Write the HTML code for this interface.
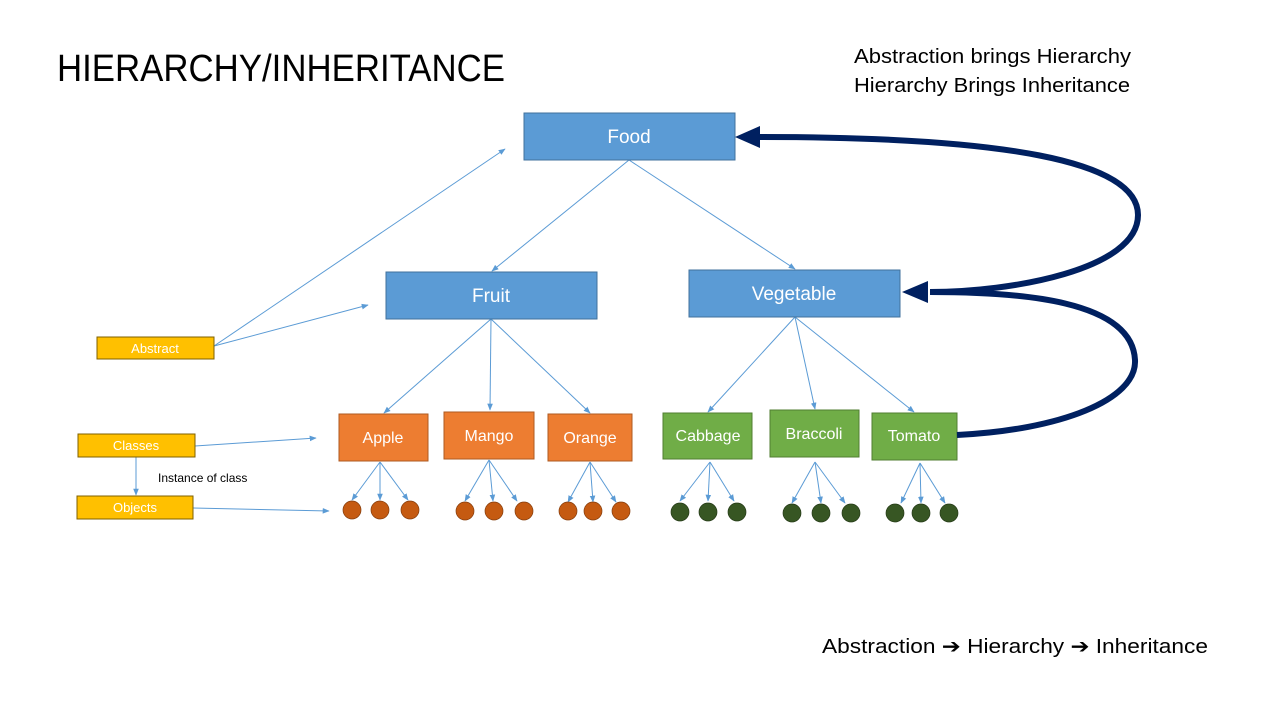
<!DOCTYPE html>
<html><head><meta charset="utf-8"><style>
body{margin:0;background:#fff;width:1280px;height:720px;overflow:hidden}
svg text{font-family:"Liberation Sans",sans-serif}
</style></head><body>
<svg width="1280" height="720" viewBox="0 0 1280 720" xmlns="http://www.w3.org/2000/svg">
<defs>
<marker id="a" viewBox="0 0 10 10" refX="9" refY="5" markerWidth="7" markerHeight="7" orient="auto"><path d="M0,1 L10,5 L0,9 z" fill="#5b9bd5"/></marker>
<marker id="b" viewBox="0 0 10 10" refX="10" refY="5" markerWidth="4" markerHeight="4" orient="auto"><path d="M0,0 L10,5 L0,10 z" fill="#002060"/></marker>
</defs>
<text x="57" y="81" font-size="38" fill="#000" textLength="448" lengthAdjust="spacingAndGlyphs">HIERARCHY/INHERITANCE</text>
<text x="854" y="63" font-size="20" fill="#000" textLength="277" lengthAdjust="spacingAndGlyphs">Abstraction brings Hierarchy</text>
<text x="854" y="92" font-size="20" fill="#000" textLength="276" lengthAdjust="spacingAndGlyphs">Hierarchy Brings Inheritance</text>
<text x="822" y="653" font-size="20" fill="#000" textLength="386" lengthAdjust="spacingAndGlyphs">Abstraction ➔ Hierarchy ➔ Inheritance</text>

<g stroke="#5b9bd5" stroke-width="1" fill="none" marker-end="url(#a)">
<line x1="629" y1="160" x2="492" y2="271"/>
<line x1="629" y1="160" x2="795" y2="269"/>
<line x1="491" y1="319" x2="384" y2="413"/>
<line x1="491" y1="319" x2="490" y2="410"/>
<line x1="491" y1="319" x2="590" y2="413"/>
<line x1="795" y1="317" x2="708" y2="412"/>
<line x1="795" y1="317" x2="815" y2="409"/>
<line x1="795" y1="317" x2="914" y2="412"/>
<line x1="214" y1="346" x2="505" y2="149"/>
<line x1="214" y1="346" x2="368" y2="305"/>
<line x1="195" y1="446" x2="316" y2="438"/>
<line x1="136" y1="457" x2="136" y2="495"/>
<line x1="193" y1="508" x2="329" y2="511"/>
</g>
<g stroke="#5b9bd5" stroke-width="1" marker-end="url(#a)">
<line x1="380" y1="462" x2="352" y2="500"/><line x1="380" y1="462" x2="380" y2="500"/><line x1="380" y1="462" x2="408" y2="500"/>
<line x1="489" y1="460" x2="465" y2="501"/><line x1="489" y1="460" x2="493" y2="501"/><line x1="489" y1="460" x2="517" y2="501"/>
<line x1="590" y1="462" x2="568" y2="502"/><line x1="590" y1="462" x2="593" y2="502"/><line x1="590" y1="462" x2="616" y2="502"/>
<line x1="710" y1="462" x2="680" y2="501"/><line x1="710" y1="462" x2="708" y2="501"/><line x1="710" y1="462" x2="734" y2="501"/>
<line x1="815" y1="462" x2="792" y2="503"/><line x1="815" y1="462" x2="821" y2="503"/><line x1="815" y1="462" x2="845" y2="503"/>
<line x1="920" y1="463" x2="901" y2="503"/><line x1="920" y1="463" x2="921" y2="503"/><line x1="920" y1="463" x2="945" y2="503"/>
</g>

<g font-size="19" fill="#fff" text-anchor="middle">
<rect x="524" y="113" width="211" height="47" fill="#5b9bd5" stroke="#41719c"/><text x="629" y="143">Food</text>
<rect x="386" y="272" width="211" height="47" fill="#5b9bd5" stroke="#41719c"/><text x="491" y="302">Fruit</text>
<rect x="689" y="270" width="211" height="47" fill="#5b9bd5" stroke="#41719c"/><text x="794" y="300">Vegetable</text>
</g>
<g font-size="16" fill="#fff" text-anchor="middle">
<rect x="339" y="414" width="89" height="47" fill="#ed7d31" stroke="#ae5a21"/><text x="383" y="443">Apple</text>
<rect x="444" y="412" width="90" height="47" fill="#ed7d31" stroke="#ae5a21"/><text x="489" y="441">Mango</text>
<rect x="548" y="414" width="84" height="47" fill="#ed7d31" stroke="#ae5a21"/><text x="590" y="443">Orange</text>
<rect x="663" y="413" width="89" height="46" fill="#70ad47" stroke="#507e32"/><text x="708" y="441">Cabbage</text>
<rect x="770" y="410" width="89" height="47" fill="#70ad47" stroke="#507e32"/><text x="814" y="439">Braccoli</text>
<rect x="872" y="413" width="85" height="47" fill="#70ad47" stroke="#507e32"/><text x="914" y="441">Tomato</text>
</g>
<g font-size="13" fill="#fff" text-anchor="middle">
<rect x="97" y="337" width="117" height="22" fill="#ffc000" stroke="#7f6000"/><text x="155" y="353">Abstract</text>
<rect x="78" y="434" width="117" height="23" fill="#ffc000" stroke="#7f6000"/><text x="136" y="450">Classes</text>
<rect x="77" y="496" width="116" height="23" fill="#ffc000" stroke="#7f6000"/><text x="135" y="512">Objects</text>
</g>
<text x="158" y="482" font-size="12" fill="#000">Instance of class</text>

<g fill="#c55a11" stroke="#843c0c" stroke-width="0.7">
<circle cx="352" cy="510" r="9"/><circle cx="380" cy="510" r="9"/><circle cx="410" cy="510" r="9"/>
<circle cx="465" cy="511" r="9"/><circle cx="494" cy="511" r="9"/><circle cx="524" cy="511" r="9"/>
<circle cx="568" cy="511" r="9"/><circle cx="593" cy="511" r="9"/><circle cx="621" cy="511" r="9"/>
</g>
<g fill="#375623" stroke="#253a17" stroke-width="0.7">
<circle cx="680" cy="512" r="9"/><circle cx="708" cy="512" r="9"/><circle cx="737" cy="512" r="9"/>
<circle cx="792" cy="513" r="9"/><circle cx="821" cy="513" r="9"/><circle cx="851" cy="513" r="9"/>
<circle cx="895" cy="513" r="9"/><circle cx="921" cy="513" r="9"/><circle cx="949" cy="513" r="9"/>
</g>

<g stroke="#002060" stroke-width="6" fill="none">
<path d="M930,292 C1010,292 1138,270 1138,215 C1138,160 1000,137 760,137"/>
<path d="M957,435 C1060,430 1137,400 1135,360 C1132,300 1020,292 930,292"/>
</g>
<path d="M735,137 L760,126 L760,148 z" fill="#002060"/>
<path d="M902,292 L928,281 L928,303 z" fill="#002060"/>
</svg>
</body></html>
